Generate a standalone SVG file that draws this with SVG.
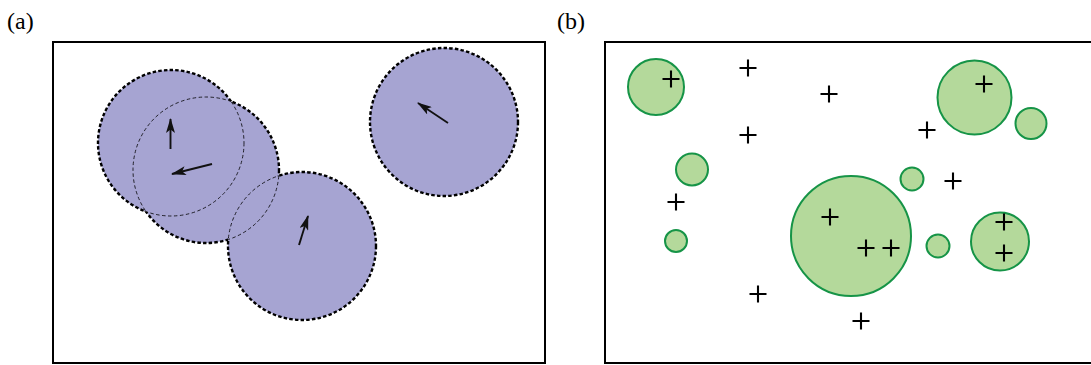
<svg xmlns="http://www.w3.org/2000/svg" width="1091" height="365" viewBox="0 0 1091 365">
<style>
.frame{fill:none;stroke:#000;stroke-width:2}
.lbl{font-family:"Liberation Serif","DejaVu Serif",serif;font-size:24px;fill:#000}
.disk{fill:#a6a4d2;stroke:none}
.thick{fill:none;stroke:#000;stroke-width:2.4;stroke-dasharray:3.5 2.2}
.thin{fill:none;stroke:#000;stroke-width:0.8;stroke-dasharray:3.5 2.5}
.arr{stroke:#111;stroke-width:1.9;fill:none;marker-end:url(#ah)}
.g{fill:#b4d99b;stroke:#169447;stroke-width:2}
.plus{stroke:#000;stroke-width:2.1;fill:none}
</style>
<defs>
<marker id="ah" viewBox="0 0 15 9" refX="14" refY="4.5" markerWidth="15" markerHeight="9" markerUnits="userSpaceOnUse" orient="auto">
<path d="M0,0 L15,4.5 L0,9 L3.5,4.5 Z" fill="#111"/>
</marker>
<path id="pl" d="M-8.5,0 H8.5 M0,-8.5 V8.5" class="plus"/>
<clipPath id="cA"><circle cx="206" cy="170" r="73"/><circle cx="302" cy="246" r="74"/></clipPath>
<clipPath id="cB"><circle cx="171" cy="143" r="73"/><circle cx="302" cy="246" r="74"/></clipPath>
<clipPath id="cC"><circle cx="171" cy="143" r="73"/><circle cx="206" cy="170" r="73"/></clipPath>
<mask id="mA" maskUnits="userSpaceOnUse" x="0" y="0" width="1091" height="365"><rect width="1091" height="365" fill="#fff"/><circle cx="206" cy="170" r="73" fill="#000"/><circle cx="302" cy="246" r="74" fill="#000"/></mask>
<mask id="mB" maskUnits="userSpaceOnUse" x="0" y="0" width="1091" height="365"><rect width="1091" height="365" fill="#fff"/><circle cx="171" cy="143" r="73" fill="#000"/><circle cx="302" cy="246" r="74" fill="#000"/></mask>
<mask id="mC" maskUnits="userSpaceOnUse" x="0" y="0" width="1091" height="365"><rect width="1091" height="365" fill="#fff"/><circle cx="171" cy="143" r="73" fill="#000"/><circle cx="206" cy="170" r="73" fill="#000"/></mask>
</defs>
<rect width="1091" height="365" fill="#fff"/>
<g id="panel-a">
<text class="lbl" x="7" y="29">(a)</text>
<rect class="frame" x="53" y="42" width="492" height="321"/>
<g id="fills">
<circle class="disk" cx="171" cy="143" r="73"/>
<circle class="disk" cx="206" cy="170" r="73"/>
<circle class="disk" cx="302" cy="246" r="74"/>
<circle class="disk" cx="444" cy="122" r="74"/>
</g>
<g id="inner-edges">
<circle class="thin" cx="171" cy="143" r="73" clip-path="url(#cA)"/>
<circle class="thin" cx="206" cy="170" r="73" clip-path="url(#cB)"/>
<circle class="thin" cx="302" cy="246" r="74" clip-path="url(#cC)"/>
</g>
<g id="outer-edges">
<circle class="thick" cx="171" cy="143" r="73" mask="url(#mA)"/>
<circle class="thick" cx="206" cy="170" r="73" mask="url(#mB)"/>
<circle class="thick" cx="302" cy="246" r="74" mask="url(#mC)"/>
<circle class="thick" cx="444" cy="122" r="74"/>
</g>
<g id="connectors">
<line class="arr" x1="170.5" y1="149" x2="170.5" y2="119"/>
<line class="arr" x1="212" y1="164" x2="172" y2="174"/>
<line class="arr" x1="299" y1="245" x2="308" y2="216"/>
<line class="arr" x1="448" y1="123" x2="418" y2="103"/>
</g>
</g>
<g id="panel-b">
<text class="lbl" x="557" y="29">(b)</text>
<rect class="frame" x="605" y="42" width="500" height="321"/>
<g id="green">
<circle class="g" cx="656" cy="87" r="28"/>
<circle class="g" cx="692" cy="169.5" r="16"/>
<circle class="g" cx="676" cy="241" r="11"/>
<circle class="g" cx="851" cy="236" r="60"/>
<circle class="g" cx="912" cy="179" r="11.5"/>
<circle class="g" cx="938" cy="246" r="11.5"/>
<circle class="g" cx="1000" cy="241.5" r="29"/>
<circle class="g" cx="974.5" cy="97.5" r="37"/>
<circle class="g" cx="1031" cy="123.5" r="15.5"/>
</g>
<g id="points">
<use href="#pl" x="671" y="79"/>
<use href="#pl" x="748" y="68"/>
<use href="#pl" x="829" y="94"/>
<use href="#pl" x="748" y="135"/>
<use href="#pl" x="676" y="202"/>
<use href="#pl" x="830" y="217"/>
<use href="#pl" x="866" y="248"/>
<use href="#pl" x="891" y="248"/>
<use href="#pl" x="953" y="181"/>
<use href="#pl" x="1004" y="222"/>
<use href="#pl" x="1004" y="253"/>
<use href="#pl" x="861" y="321"/>
<use href="#pl" x="758" y="294"/>
<use href="#pl" x="984" y="84"/>
<use href="#pl" x="927" y="130"/>
</g>
</g>
</svg>
